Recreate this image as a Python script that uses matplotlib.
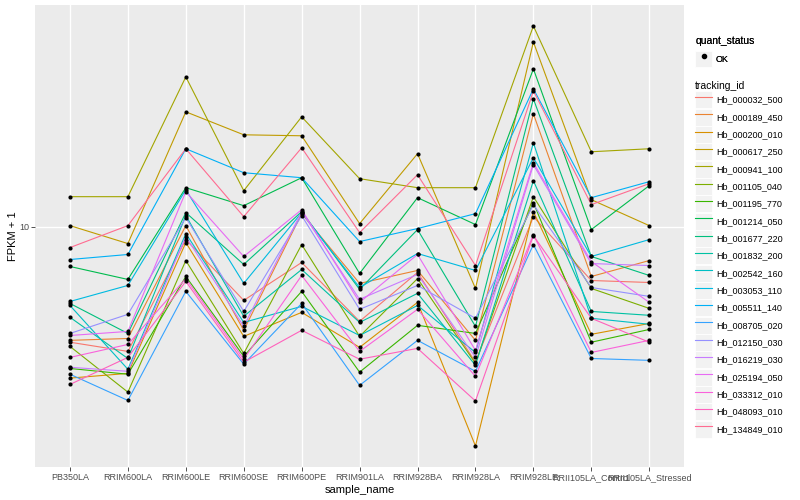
import matplotlib
matplotlib.use('Agg')
import matplotlib.pyplot as plt
from matplotlib.lines import Line2D
from matplotlib.patches import Rectangle
from matplotlib.legend_handler import HandlerLine2D

plt.rcParams['font.family'] = ['Liberation Sans', 'DejaVu Sans']

samples = ['PB350LA', 'RRIM600LA', 'RRIM600LE', 'RRIM600SE', 'RRIM600PE', 'RRIM901LA',
           'RRIM928BA', 'RRIM928LA', 'RRIM928LE', 'RRII105LA_Control', 'RRII105LA_Stressed']

# FPKM + 1 per tracking id, one value per sample
hb_000032_500 = [3.44, 3.16, 8.87, 5.06, 7.18, 4.17, 6.55, 2.86, 10.96, 6.08, 5.97]
hb_000189_450 = [3.50, 3.56, 10.09, 3.84, 11.27, 5.92, 6.67, 3.50, 28.31, 6.31, 7.31]
hb_000200_010 = [2.47, 2.58, 8.63, 3.63, 4.53, 3.28, 4.97, 1.32, 11.48, 3.70, 4.09]
hb_000617_250 = [10.09, 8.55, 28.84, 23.33, 23.12, 10.28, 19.59, 5.65, 54.95, 12.82, 10.09]
hb_000941_100 = [13.18, 13.18, 39.81, 13.93, 27.54, 15.56, 14.32, 14.32, 63.68, 19.95, 20.51]
hb_001105_040 = [3.31, 2.17, 7.31, 3.10, 8.47, 3.63, 6.19, 2.83, 13.18, 5.65, 4.70]
hb_001195_770 = [2.70, 2.56, 6.31, 3.02, 5.50, 2.61, 4.02, 3.73, 12.47, 3.44, 3.87]
hb_001214_050 = [6.92, 6.14, 14.32, 12.13, 15.70, 6.49, 13.06, 10.19, 42.85, 9.73, 14.59]
hb_001677_220 = [4.92, 3.73, 11.38, 7.05, 11.48, 5.60, 9.73, 3.98, 32.51, 7.59, 6.37]
hb_001832_200 = [4.33, 2.96, 11.07, 4.37, 6.73, 4.13, 5.40, 2.78, 15.28, 4.57, 4.41]
hb_002542_160 = [4.83, 2.68, 9.38, 4.13, 4.79, 3.66, 4.83, 3.13, 21.68, 4.29, 4.06]
hb_003053_110 = [5.01, 5.81, 14.06, 5.92, 11.38, 5.70, 7.80, 6.67, 18.88, 7.59, 8.87]
hb_005511_140 = [7.38, 7.73, 20.51, 16.44, 15.70, 8.71, 9.82, 11.27, 35.65, 13.06, 15.14]
hb_008705_020 = [2.56, 2.01, 5.50, 2.81, 4.92, 2.31, 3.50, 2.63, 8.47, 2.96, 2.91]
hb_012150_030 = [3.73, 4.45, 10.86, 4.57, 11.07, 4.66, 5.81, 4.29, 12.25, 5.70, 5.25]
hb_016219_030 = [2.73, 2.63, 9.12, 3.98, 11.48, 5.11, 6.43, 2.99, 17.70, 7.11, 6.98]
hb_025194_050 = [3.66, 3.80, 13.80, 7.59, 11.69, 4.97, 7.73, 3.19, 18.03, 7.24, 4.97]
hb_033312_010 = [2.99, 3.37, 6.19, 2.94, 6.37, 3.16, 4.66, 2.51, 9.29, 3.13, 3.50]
hb_048093_010 = [2.33, 2.99, 6.03, 2.86, 3.84, 2.94, 3.25, 2.00, 9.20, 4.29, 3.44]
hb_134849_010 = [8.24, 10.09, 20.51, 10.96, 20.70, 9.46, 16.14, 6.98, 34.99, 12.25, 14.86]

tracking_ids = ['Hb_000032_500', 'Hb_000189_450', 'Hb_000200_010', 'Hb_000617_250',
                'Hb_000941_100', 'Hb_001105_040', 'Hb_001195_770', 'Hb_001214_050',
                'Hb_001677_220', 'Hb_001832_200', 'Hb_002542_160', 'Hb_003053_110',
                'Hb_005511_140', 'Hb_008705_020', 'Hb_012150_030', 'Hb_016219_030',
                'Hb_025194_050', 'Hb_033312_010', 'Hb_048093_010', 'Hb_134849_010']
series = [hb_000032_500, hb_000189_450, hb_000200_010, hb_000617_250, hb_000941_100,
          hb_001105_040, hb_001195_770, hb_001214_050, hb_001677_220, hb_001832_200,
          hb_002542_160, hb_003053_110, hb_005511_140, hb_008705_020, hb_012150_030,
          hb_016219_030, hb_025194_050, hb_033312_010, hb_048093_010, hb_134849_010]

# ggplot2 default hue palette for 20 levels
colors = ['#F8766D', '#EA8331', '#D89000', '#C09B00', '#A3A500', '#7CAE00', '#39B600',
          '#00BB4E', '#00BF7D', '#00C1A3', '#00BFC4', '#00BAE0', '#00B0F6', '#35A2FF',
          '#9590FF', '#C77CFF', '#E76BF3', '#FA62DB', '#FF62BC', '#FF6C91']

fig = plt.figure(figsize=(8, 5), dpi=100)
ax = fig.add_axes([0.044, 0.066, 0.811, 0.924])
ax.set_facecolor('#EBEBEB')
for s in ax.spines.values():
    s.set_visible(False)

xs = list(range(len(samples)))
for vals, col in zip(series, colors):
    ax.plot(xs, vals, color=col, lw=0.8, zorder=2)
for vals in series:
    ax.scatter(xs, vals, s=9, color='black', marker='o', linewidths=0, zorder=3)

ax.set_yscale('log')
ax.margins(y=0.05)
ax.set_xlim(-0.6, len(samples) - 0.4)
ax.set_yticks([10])
ax.set_yticklabels(['10'])
ax.minorticks_off()
ax.set_xticks(xs)
ax.set_xticklabels(samples)
ax.grid(True, color='white', lw=1.0, zorder=0)
ax.set_axisbelow(True)
ax.tick_params(axis='both', colors='#333333', length=3, width=0.6, labelsize=6.5,
               labelcolor='#4D4D4D', pad=1.5)
ax.set_xlabel('sample_name', fontsize=8, labelpad=2)
ax.set_ylabel('FPKM + 1', fontsize=8)
ax.yaxis.set_label_coords(-0.0265, 0.5)


class KeyHandler(HandlerLine2D):
    def create_artists(self, legend, orig_handle, xdescent, ydescent, width, height,
                       fontsize, trans):
        box = Rectangle((-xdescent, -ydescent), width, height, facecolor='#F2F2F2',
                        edgecolor='white', lw=0.6, transform=trans)
        arts = super().create_artists(legend, orig_handle, xdescent, ydescent, width,
                                      height, fontsize, trans)
        return [box] + list(arts)


ok_handle = Line2D([], [], ls='', marker='o', ms=3, color='black')
leg1 = fig.legend([ok_handle], ['OK'], title='quant_status', loc='upper left',
                  bbox_to_anchor=(0.869, 0.928), frameon=False, fontsize=6.5,
                  title_fontsize=7.5, handlelength=1.85, handleheight=2.5,
                  handletextpad=0.45, borderaxespad=0, borderpad=0, alignment='left',
                  handler_map={Line2D: KeyHandler(numpoints=1)})
fig.add_artist(leg1)

line_handles = [Line2D([], [], color=c, lw=0.8) for c in colors]
leg2 = fig.legend(line_handles, tracking_ids, title='tracking_id', loc='upper left',
                  bbox_to_anchor=(0.869, 0.838), frameon=False, fontsize=6.5,
                  title_fontsize=7.5, handlelength=1.85, handleheight=2.5,
                  handletextpad=0.45, labelspacing=0.05, borderaxespad=0, borderpad=0,
                  alignment='left', handler_map={Line2D: KeyHandler()})

fig.savefig('out.png', dpi=100)
